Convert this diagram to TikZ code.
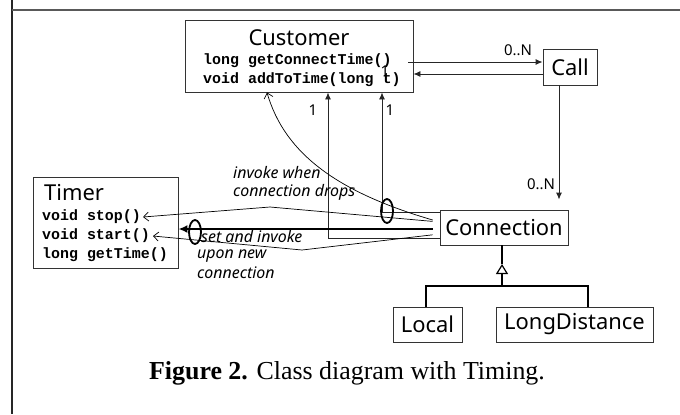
\documentclass[tikz,border=0pt]{standalone}
\usepackage{fontspec}
\usetikzlibrary{arrows.meta,shapes.geometric}
\newfontfamily\classfont{Noto Sans}
\newfontfamily\codefont{Liberation Mono}
\newfontfamily\capfont{Liberation Serif}
\begin{document}
\begin{tikzpicture}[x=1bp,y=-1bp,
  box/.style={draw=black!80, line width=0.9bp, rectangle, inner sep=0pt},
  title/.style={font=\classfont\fontsize{22}{24}\selectfont, inner sep=0pt},
  meth/.style={font=\codefont\bfseries\fontsize{15}{17}\selectfont, anchor=west, inner sep=0pt},
  mult/.style={font=\classfont\fontsize{15}{17}\selectfont, inner sep=0pt},
  note/.style={font=\classfont\itshape\fontsize{16}{18}\selectfont, anchor=west, inner sep=0pt},
  arr/.style={-{Latex[length=7bp,width=6bp]}, line width=0.9bp, black!85},
  barb/.style={-{Straight Barb[length=5bp,width=9bp]}, line width=0.7bp},
  inh/.style={line width=1.8bp},
  ring/.style={ellipse, draw, line width=1.8bp, minimum width=12bp, minimum height=24bp, inner sep=0pt}]
\useasboundingbox (0,0) rectangle (680,414);

% frame lines
\draw[line width=2bp, black!85] (12,0) -- (12,414);
\draw[line width=2bp, black!65] (12,10) -- (680,10);

% classes
\node[box, minimum width=228bp, minimum height=72bp] (cust) at (299,56) {};
\node[title] (custT) at (299,38) {Customer};
\node[meth] (custA) at (203,61) {long getConnectTime()};
\node[meth] (custB) at (203,80) {void addToTime(long t)};

\node[box, minimum width=54bp, minimum height=36bp] (call) at (570,67) {};
\node[title] (callT) at (570,67) {Call};

\node[box, minimum width=128bp, minimum height=35bp] (conn) at (504,227.5) {};
\node[title] (connT) at (504,227.5) {Connection};

\node[box, minimum width=69bp, minimum height=35bp] (local) at (427.5,324.5) {};
\node[title] (localT) at (427.5,324.5) {Local};

\node[box, minimum width=157bp, minimum height=35bp] (ld) at (574.5,324.5) {};
\node[title] (ldT) at (574.5,324.5) {LongDistance};

\node[box, minimum width=145bp, minimum height=91bp] (timer) at (105.5,222.5) {};
\node[title, anchor=west] (timerT) at (44,193) {Timer};
\node[meth] (tstop) at (42,217) {void stop()};
\node[meth] (tstart) at (42,236) {void start()};
\node[meth] (tget) at (42,255) {long getTime()};

% Customer <-> Call
\coordinate (callU) at ([yshift=5bp]call.west);
\coordinate (callL) at ([yshift=-7bp]call.west);
\draw[arr] ([xshift=-5bp]cust.east |- callU) -- (callU);
\draw[arr] (callL) -- (cust.east |- callL);
\node[mult] (mA) at (518,50) {0..N};
\node[mult] (mB) at (385,71) {1};

% Call -> Connection
\coordinate (callD) at ([xshift=-11bp]call.south);
\draw[arr, shorten >=10bp] (callD) -- (callD |- conn.north);
\node[mult] (mC) at (541,184) {0..N};

% Connection -> Customer
\draw[arr] ([yshift=-10.5bp]conn.west) -| ([xshift=29bp]cust.south);
\draw[arr] ([yshift=15.5bp]conn.west) -| ([xshift=83bp]cust.south);
\node[mult] (mD) at (313,110) {1};
\node[mult] (mE) at (390,110) {1};

% Connection -> Timer
\draw[-{Latex[length=9bp,width=8bp]}, line width=2.6bp, shorten <=7bp]
  ([yshift=-1.5bp]conn.west) -- (timer.east |- 0,229);
\draw[barb, shorten <=7bp] ([yshift=5.5bp]conn.west) -- (270,207) -- ([xshift=2bp]tstop.east);
\draw[barb, shorten <=7bp] ([yshift=-6.5bp]conn.west) -- (302,250) -- ([xshift=3bp]tstart.east);
\draw[barb, shorten <=7bp] ([yshift=5.5bp]conn.west)
  .. controls (340,193) and (285,155) .. ([xshift=-32bp]cust.south);

% advice markers
\node[ring] (ringA) at (387,211) {};
\node[ring] (ringB) at (195,232) {};

% notes
\node[note] (nA1) at (233,173) {invoke when};
\node[note] (nA2) at (233,192) {connection drops};
\node[note] (nB1) at (201,237) {set and invoke};
\node[note] (nB2) at (197,256) {upon new};
\node[note] (nB3) at (197,273) {connection};

% generalisation
\coordinate (jn) at (502,286);
\draw[inh] (conn.south -| jn) -- ++(0,19);
\draw[inh, -{Triangle[open,length=10bp,width=12bp,line width=1.2bp]}] (jn) -- ++(0,-22);
\draw[inh] ([xshift=-1.5bp]local.north) |- (jn) -| ([xshift=13.5bp]ld.north);

% caption
\node[font=\capfont\fontsize{26}{30}\selectfont, inner sep=0pt] (cap) at (347,373)
  {\textbf{Figure 2.} Class diagram with Timing.};
\end{tikzpicture}
\end{document}
